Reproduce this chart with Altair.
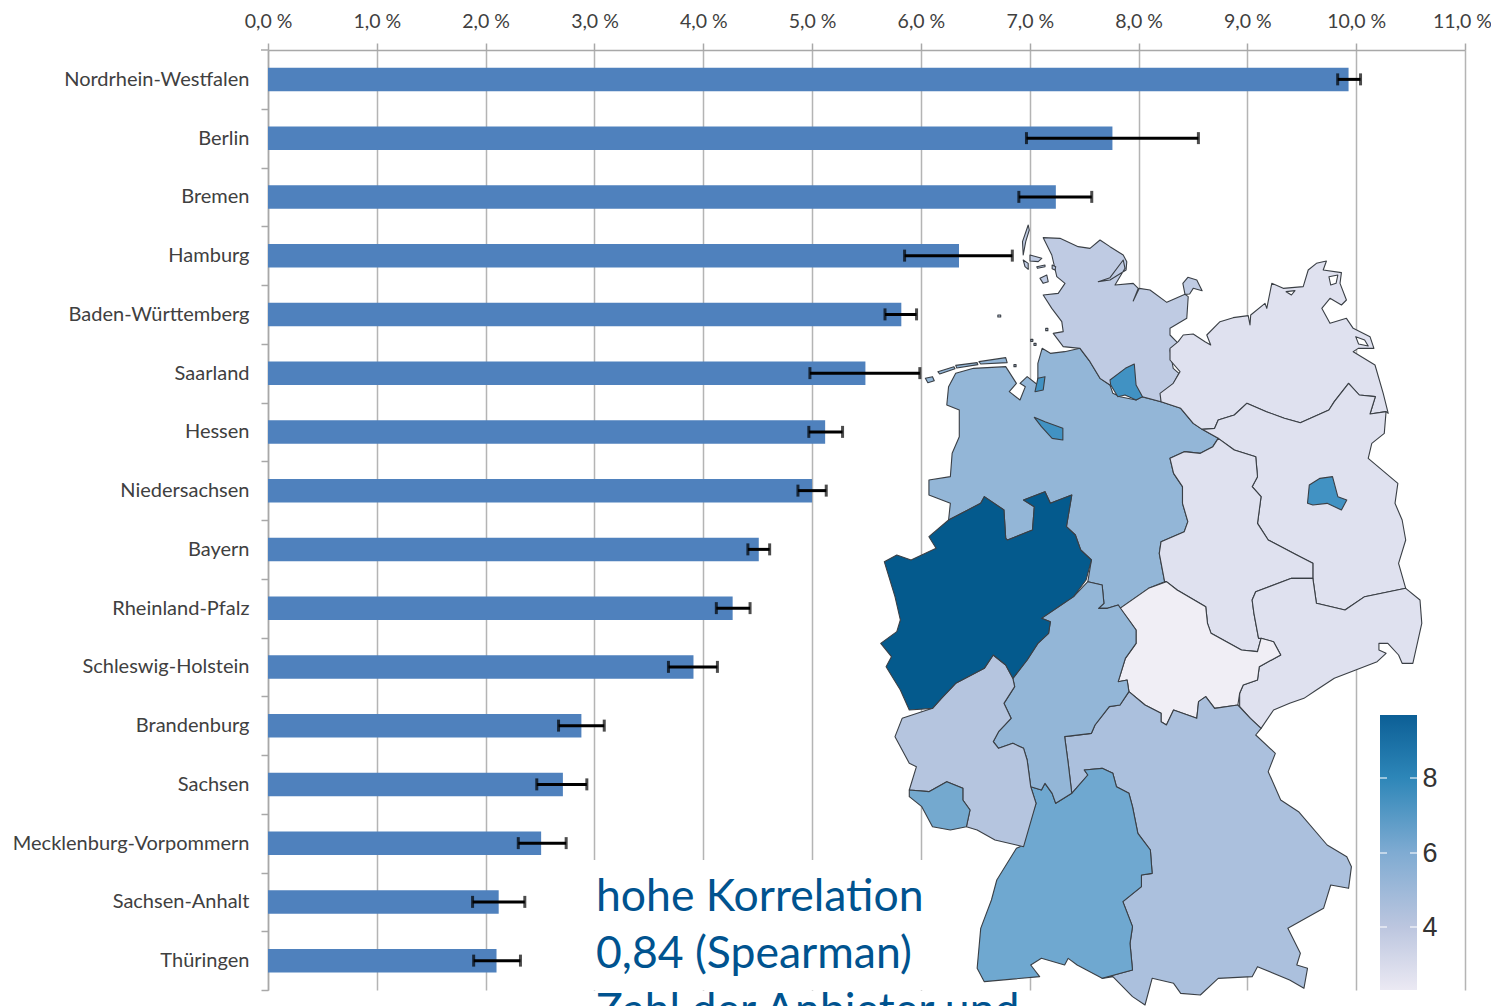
import altair as alt
import pandas as pd

# ---------- chart values ----------
states = ["Nordrhein-Westfalen", "Berlin", "Bremen", "Hamburg", "Baden-Württemberg", "Saarland",
          "Hessen", "Niedersachsen", "Bayern", "Rheinland-Pfalz", "Schleswig-Holstein", "Brandenburg",
          "Sachsen", "Mecklenburg-Vorpommern", "Sachsen-Anhalt", "Thüringen"]
shares = [9.93, 7.76, 7.24, 6.35, 5.82, 5.49, 5.12, 5.00, 4.51, 4.27, 3.91, 2.88, 2.71, 2.51, 2.12, 2.10]
err_low = [9.83, 6.97, 6.90, 5.85, 5.67, 4.98, 4.97, 4.87, 4.41, 4.12, 3.68, 2.67, 2.47, 2.30, 1.88, 1.89]
err_high = [10.04, 8.55, 7.57, 6.84, 5.96, 5.99, 5.28, 5.13, 4.61, 4.43, 4.13, 3.09, 2.93, 2.74, 2.36, 2.32]
x_ticks = list(range(0, 12))
note_lines = ["hohe Korrelation", "0,84 (Spearman)", "Zahl der Anbieter und"]

# map outlines, in map units
NS = [(215,555),(220,500),(240,460),(290,445),(380,440),(410,490),(390,515),(420,540),(435,500),(420,490),(440,470),(470,495),(470,430),(482,385),(505,400),(545,395),(588,385),(616,425),(644,475),(672,495),(680,520),(700,530),(745,540),(760,530),(815,545),(870,565),(905,610),(930,628),(975,655),(960,680),(925,700),(880,695),(840,715),(850,760),(875,800),(875,850),(890,905),(880,935),(815,965),(810,1000),(825,1085),(780,1105),(700,1165),(695,1155),(665,1165),(640,1165),(655,1150),(650,1095),(610,1085),(620,1020),(590,990),(575,945),(550,920),(565,825),(505,850),(490,815),(430,840),(460,860),(455,930),(385,960),(380,955),(375,870),(320,830),(310,850),(220,900),(225,850),(165,825),(165,780),(225,770),(230,700),(250,650),(250,570)]
SH = [(485,53),(532,55),(583,80),(616,85),(644,60),(672,80),(709,105),(719,125),(717,150),(672,180),(639,185),(672,173),(709,120),(714,145),(686,195),(737,190),(751,205),(737,243),(754,205),(784,210),(831,247),(882,223),(891,230),(887,295),(840,325),(840,345),(863,370),(840,390),(849,445),(865,460),(850,490),(818,520),(815,545),(763,530),(672,495),(644,475),(616,425),(588,385),(541,380),(513,340),(541,335),(537,305),(509,265),(485,225),(527,220),(546,190),(523,170),(509,105)]
FEHMARN = [(882,223),(876,190),(890,172),(915,180),(930,212),(905,205),(895,222)]
SYLT = [(443,15),(427,65),(429,105),(436,65),(446,30)]
FOEHR = [(448,105),(481,115),(471,125),(448,123)]
AMRUM = [(429,120),(443,130),(443,148),(434,140)]
PELLWORM = [(476,175),(495,165),(499,185),(485,190)]
HALLIG_1 = [(467,140),(490,135),(490,140),(469,145)]
HALLIG_2 = [(510,135),(520,140),(518,150),(510,146)]
HALLIG_3 = [(492,325),(498,325),(498,332),(492,332)]
HALLIG_4 = [(450,358),(456,358),(456,364),(450,364)]
HALLIG_5 = [(459,370),(465,370),(465,376),(459,376)]
HALLIG_6 = [(403,434),(409,434),(409,440),(403,440)]
HALLIG_7 = [(358,285),(366,285),(366,291),(358,291)]
FRISIAN_1 = [(155,475),(175,470),(180,482),(162,488)]
FRISIAN_2 = [(190,455),(235,440),(238,446),(195,462)]
FRISIAN_3 = [(240,436),(300,428),(302,434),(243,444)]
FRISIAN_4 = [(305,425),(380,413),(384,428),(310,432)]
MV = [(815,545),(812,520),(849,490),(868,455),(840,420),(840,385),(863,365),(877,345),(905,342),(938,365),(954,375),(943,345),(980,305),(1017,293),(1059,287),(1064,315),(1066,285),(1106,250),(1111,265),(1125,190),(1157,205),(1213,200),(1227,150),(1250,130),(1278,123),(1269,150),(1320,158),(1316,190),(1334,240),(1320,255),(1288,235),(1265,265),(1288,310),(1334,295),(1353,325),(1400,350),(1411,385),(1367,385),(1353,395),(1414,435),(1437,520),(1451,580),(1445,575),(1400,582),(1415,530),(1370,525),(1340,490),(1300,545),(1285,570),(1205,608),(1160,595),(1110,575),(1055,550),(1020,585),(975,600),(965,625),(930,628),(905,610),(870,565)]
RUEGEN_BAY = [(1285,170),(1310,165),(1305,190),(1290,195)]
DARSS_BAY = [(1165,215),(1190,212),(1180,225)]
STETTIN_BAY = [(1360,350),(1385,360),(1395,378),(1368,372)]
BB = [(930,628),(965,625),(975,600),(1020,585),(1055,550),(1110,575),(1160,595),(1205,608),(1285,570),(1300,545),(1340,490),(1370,525),(1415,530),(1400,582),(1445,575),(1440,640),(1405,670),(1395,715),(1478,790),(1470,850),(1490,900),(1500,960),(1480,1030),(1500,1105),(1385,1130),(1330,1170),(1250,1150),(1240,1075),(1240,1030),(1195,1005),(1115,960),(1085,910),(1095,830),(1070,800),(1085,770),(1080,710),(1020,690),(975,655)]
ST = [(975,655),(1020,690),(1080,710),(1085,770),(1070,800),(1095,830),(1085,910),(1115,960),(1195,1005),(1240,1030),(1240,1075),(1180,1075),(1080,1115),(1070,1140),(1075,1180),(1088,1255),(1095,1255),(1085,1295),(1040,1290),(955,1240),(945,1210),(940,1160),(860,1110),(830,1085),(825,1085),(810,1000),(815,965),(880,935),(890,905),(875,850),(875,800),(850,760),(840,715),(880,695),(925,700),(960,680)]
SN = [(1240,1075),(1250,1150),(1330,1170),(1385,1130),(1500,1105),(1540,1140),(1545,1210),(1520,1330),(1490,1330),(1480,1305),(1450,1270),(1425,1270),(1425,1290),(1445,1300),(1420,1325),(1360,1350),(1300,1375),(1250,1410),(1215,1435),(1175,1450),(1130,1470),(1095,1525),(1065,1495),(1035,1460),(1035,1420),(1045,1395),(1085,1380),(1090,1340),(1150,1305),(1130,1265),(1095,1255),(1088,1255),(1075,1180),(1070,1140),(1080,1115),(1180,1075)]
TH = [(700,1165),(780,1105),(830,1085),(860,1110),(940,1160),(945,1210),(955,1240),(1040,1290),(1085,1295),(1095,1255),(1130,1265),(1150,1305),(1090,1340),(1085,1380),(1045,1395),(1035,1420),(1030,1455),(965,1465),(940,1430),(920,1445),(915,1495),(850,1470),(830,1515),(815,1505),(815,1480),(770,1455),(725,1415),(720,1380),(695,1385),(715,1315),(745,1270),(745,1230),(725,1200)]
BY = [(725,1415),(770,1455),(815,1480),(815,1505),(830,1515),(850,1470),(915,1495),(920,1445),(940,1430),(965,1465),(1030,1455),(1065,1495),(1095,1525),(1080,1545),(1135,1600),(1115,1655),(1150,1740),(1200,1775),(1280,1875),(1335,1910),(1348,1940),(1340,2005),(1290,1995),(1270,2065),(1170,2125),(1205,2200),(1195,2235),(1225,2245),(1215,2305),(1175,2280),(1085,2240),(1070,2270),(975,2275),(925,2325),(870,2320),(850,2290),(790,2275),(770,2355),(735,2330),(680,2270),(650,2275),(735,2250),(728,2170),(735,2120),(708,2045),(760,2000),(760,1965),(790,1960),(785,1890),(750,1840),(735,1760),(725,1720),(690,1700),(680,1660),(650,1645),(600,1650),(610,1665),(565,1720),(555,1630),(545,1550),(620,1540),(630,1515),(670,1460),(700,1455)]
BW = [(600,1650),(650,1645),(680,1660),(690,1700),(725,1720),(735,1760),(750,1840),(785,1890),(790,1960),(760,1965),(760,2000),(708,2045),(735,2120),(728,2170),(735,2250),(650,2275),(580,2235),(555,2215),(545,2235),(480,2215),(450,2235),(475,2270),(320,2285),(300,2245),(310,2125),(340,2040),(355,1980),(410,1885),(420,1880),(465,1750),(450,1700),(480,1710),(490,1690),(510,1720),(520,1750),(565,1720),(610,1665)]
HE = [(610,1085),(650,1095),(655,1150),(640,1165),(665,1165),(695,1155),(705,1170),(725,1200),(745,1230),(745,1270),(715,1315),(695,1385),(720,1380),(725,1415),(700,1455),(670,1460),(630,1515),(620,1540),(545,1550),(555,1630),(565,1720),(520,1750),(510,1720),(490,1690),(480,1710),(450,1700),(440,1620),(430,1585),(400,1570),(360,1585),(345,1565),(360,1535),(395,1495),(375,1450),(405,1400),(400,1375),(440,1320),(470,1270),(500,1240),(505,1205),(480,1195),(535,1155),(570,1130)]
RP = [(400,1375),(405,1400),(375,1450),(395,1495),(360,1535),(345,1565),(360,1585),(400,1570),(430,1585),(440,1620),(450,1700),(465,1750),(430,1880),(410,1875),(350,1860),(300,1830),(270,1820),(280,1770),(260,1740),(260,1705),(215,1685),(165,1715),(110,1710),(130,1640),(110,1630),(70,1550),(90,1495),(175,1465),(200,1435),(240,1390),(320,1345),(345,1305),(380,1335)]
SL = [(110,1710),(165,1715),(215,1685),(260,1705),(260,1740),(280,1770),(270,1820),(225,1830),(175,1820),(145,1760),(110,1730)]
NW = [(40,1025),(75,1005),(115,1020),(185,985),(165,950),(220,900),(310,850),(320,830),(375,870),(380,955),(385,960),(455,930),(460,860),(430,840),(490,815),(505,850),(565,825),(550,920),(575,945),(590,990),(620,1020),(605,1080),(570,1130),(535,1155),(480,1195),(505,1205),(500,1240),(470,1270),(440,1320),(400,1375),(380,1335),(345,1305),(320,1345),(240,1390),(200,1435),(175,1465),(110,1470),(85,1410),(45,1340),(60,1310),(30,1270),(75,1235),(85,1200),(70,1130)]
HH = [(672,480),(715,445),(740,432),(745,495),(763,530),(745,540),(714,525),(694,530),(674,495)]
HB_BREMEN = [(460,592),(490,605),(540,625),(540,660),(510,655),(480,620)]
HB_HAVEN = [(470,475),(490,470),(485,510),(462,515)]
BE = [(1225,850),(1230,795),(1260,775),(1295,770),(1310,830),(1335,840),(1320,870),(1280,850),(1240,855)]

SH_FILL, NS_FILL, EAST_FILL, CITY_FILL = "#bfcbe3", "#93b6d7", "#dfe1ef", "#4192c3"
map_regions = [
    (NS, NS_FILL), (SH, SH_FILL), (FEHMARN, SH_FILL), (SYLT, SH_FILL), (FOEHR, SH_FILL), (AMRUM, SH_FILL),
    (PELLWORM, SH_FILL), (HALLIG_1, SH_FILL), (HALLIG_2, SH_FILL), (HALLIG_3, SH_FILL), (HALLIG_4, SH_FILL),
    (HALLIG_5, SH_FILL), (HALLIG_6, SH_FILL), (HALLIG_7, SH_FILL),
    (FRISIAN_1, NS_FILL), (FRISIAN_2, NS_FILL), (FRISIAN_3, NS_FILL), (FRISIAN_4, NS_FILL),
    (MV, EAST_FILL), (RUEGEN_BAY, "#ffffff"), (DARSS_BAY, "#ffffff"), (STETTIN_BAY, "#ffffff"),
    (BB, EAST_FILL), (ST, EAST_FILL), (SN, EAST_FILL), (TH, "#f0eef5"), (BY, "#abc0dd"), (BW, "#6fa8d0"),
    (HE, NS_FILL), (RP, "#b5c5df"), (SL, "#74a9cf"), (NW, "#045a8d"), (HH, CITY_FILL), (HB_BREMEN, CITY_FILL),
    (HB_HAVEN, CITY_FILL), (BE, CITY_FILL),
]

LABEL_FONT = "Lato"
PLOT_W, PLOT_H = 1197, 940
ORIGIN_X, ORIGIN_Y = 268, 50
STEP = PLOT_H / len(states)


def feature(points, fill):
    ring = [[870 + px / 2.8, 220 + py / 3] for px, py in points]
    ring.append(ring[0])
    return {"type": "Feature", "geometry": {"type": "Polygon", "coordinates": [ring]},
            "properties": {"fill": fill}}


df = pd.DataFrame({"state": states, "share": shares, "low": err_low, "high": err_high})
one = df.head(1)

x_scale = alt.Scale(domain=[0, 11], nice=False, zero=False)
y_scale = alt.Scale(domain=states, paddingInner=0.6, paddingOuter=0.3)

bars = alt.Chart(df).mark_bar(color="#4f81bd").encode(
    x=alt.X("share:Q", scale=x_scale, axis=alt.Axis(
        orient="top", values=x_ticks, title=None, grid=True, gridColor="#b4b4b4", gridWidth=1.5,
        domainColor="#a8a8a8", domainWidth=1.5, tickColor="#a8a8a8", tickWidth=1.5, tickSize=7,
        labelFont=LABEL_FONT, labelFontSize=19.5, labelColor="#404040", labelPadding=12,
        labelOffset=alt.ConditionalAxisNumber(condition={"test": "datum.value == 11", "value": -3}, value=0),
        labelExpr="replace(format(datum.value, '.1f'), '.', ',') + ' %'", labelOverlap=False, labelFlush=False)),
    y=alt.Y("state:N", sort=states, scale=y_scale, axis=alt.Axis(
        title=None, domainColor="#a8a8a8", domainWidth=1.5, tickColor="#a8a8a8", tickWidth=1.5,
        tickSize=7, tickOffset=STEP / 2, labelOffset=-STEP / 2, labelFont=LABEL_FONT, labelFontSize=20,
        labelColor="#404040", labelPadding=12, labelLimit=300, labelOverlap=False)),
)

top_tick = alt.Chart(one).mark_rule(color="#a8a8a8", strokeWidth=1.5).encode(
    x=alt.value(-7), x2=alt.value(0), y=alt.value(0))

note_box = alt.Chart(one).mark_rect(color="white").encode(
    x=alt.value(590 - ORIGIN_X), x2=alt.value(1026 - ORIGIN_X),
    y=alt.value(860 - ORIGIN_Y), y2=alt.value(PLOT_H))

err_rule = alt.Chart(df).mark_rule(color="black", strokeWidth=3).encode(
    x=alt.X("low:Q", scale=x_scale), x2="high:Q", y=alt.Y("state:N", sort=states, scale=y_scale))
cap_low = alt.Chart(df).mark_tick(color="black", thickness=3, size=12).encode(
    x=alt.X("low:Q", scale=x_scale), y=alt.Y("state:N", sort=states, scale=y_scale))
cap_high = alt.Chart(df).mark_tick(color="black", thickness=3, size=12).encode(
    x=alt.X("high:Q", scale=x_scale), y=alt.Y("state:N", sort=states, scale=y_scale))

map_layer = alt.Chart(alt.Data(values=[feature(p, f) for p, f in map_regions])).mark_geoshape(
    stroke="#3a3f45", strokeWidth=1.1, strokeJoin="round", clip=False).encode(
    color=alt.Color("properties.fill:N", scale=None)
).project(type="identity", scale=1, translate=[-ORIGIN_X, -ORIGIN_Y])

notes = [alt.Chart(one).mark_text(
    text=t, font=LABEL_FONT, fontSize=44.5, color="#00538f", align="left", baseline="alphabetic").encode(
    x=alt.value(596 - ORIGIN_X), y=alt.value(yy - ORIGIN_Y)) for t, yy in zip(note_lines, [911, 968, 1025])]

bar_stops = [alt.GradientStop(offset=0, color="#ebe9f3"), alt.GradientStop(offset=0.228, color="#bcc6df"),
             alt.GradientStop(offset=0.5, color="#7fabd2"), alt.GradientStop(offset=0.773, color="#2d86b8"),
             alt.GradientStop(offset=1, color="#0c5f96")]
colorbar = alt.Chart(one).mark_rect(
    color=alt.Gradient(gradient="linear", stops=bar_stops, x1=0, x2=0, y1=1, y2=0)).encode(
    x=alt.value(1380 - ORIGIN_X), x2=alt.value(1417 - ORIGIN_X),
    y=alt.value(715 - ORIGIN_Y), y2=alt.value(990 - ORIGIN_Y))

bar_layers = []
for label, yy in zip(["4", "6", "8"], [927, 853, 778]):
    for x0, x1 in [(1380, 1387), (1410, 1417)]:
        bar_layers.append(alt.Chart(one).mark_rule(color="white", strokeWidth=1.5, opacity=0.7).encode(
            x=alt.value(x0 - ORIGIN_X), x2=alt.value(x1 - ORIGIN_X), y=alt.value(yy - ORIGIN_Y)))
    bar_layers.append(alt.Chart(one).mark_text(
        text=label, font="Liberation Sans", fontSize=27, color="#333333", align="center",
        baseline="middle").encode(x=alt.value(1430 - ORIGIN_X), y=alt.value(yy + 1 - ORIGIN_Y)))

chart = alt.layer(bars, top_tick, note_box, err_rule, cap_low, cap_high, map_layer, *notes, colorbar,
                  *bar_layers).properties(
    width=PLOT_W, height=PLOT_H,
    padding={"left": ORIGIN_X - 8, "top": ORIGIN_Y - 8, "right": 26, "bottom": 16},
    autosize=alt.AutoSizeParams(type="none"),
).configure_view(stroke=None)

chart.save("out.html", embed_options={"renderer": "svg", "actions": False})
